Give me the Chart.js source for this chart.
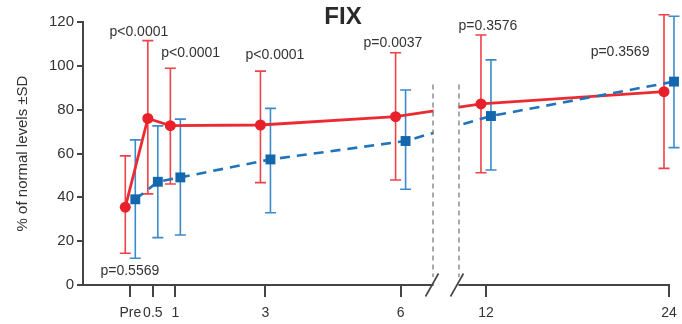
<!DOCTYPE html>
<html><head><meta charset="utf-8">
<script src="https://cdn.jsdelivr.net/npm/chart.js@4/dist/chart.umd.min.js"></script>
<style>html,body{margin:0;padding:0;background:#fff}#wrap{width:682px;height:324px;position:relative}</style>
</head><body><div id="wrap"><canvas id="c" width="682" height="324" style="width:682px;height:324px"></canvas></div>
<script>
// ---- data ----
const timeLabels = ['Pre', '0.5', '1', '3', '6', '12', '24'];
const timeMonths = [0, 0.5, 1, 3, 6, 12, 24];
const redMean  = [35.5, 76.0, 72.7, 73.0, 76.8, 82.6, 88.2];
const redLow   = [14.5, 41.6, 46.1, 46.7, 47.9, 51.2, 53.2];
const redHigh  = [58.9, 111.5, 98.9, 97.6, 106.0, 114.1, 123.3];
const blueMean = [39.1, 47.1, 49.1, 57.3, 65.7, 77.1, 92.8];
const blueLow  = [12.2, 21.6, 22.8, 33.0, 43.7, 52.5, 62.7];
const blueHigh = [66.2, 72.6, 75.7, 80.6, 89.0, 102.7, 122.6];
const yTicks = [0, 20, 40, 60, 80, 100, 120];
const pTexts  = ['p<0.0001', 'p<0.0001', 'p<0.0001', 'p=0.0037', 'p=0.3576', 'p=0.3569', 'p=0.5569'];
const pMonths = [0.19, 1.34, 3.21, 5.83, 12.13, 20.79, -0.01];
const pValues = [115.4, 105.9, 105.0, 110.4, 118.2, 106.3, 6.4];
const axisBreak = [6.72, 10.23];   // months hidden by the axis break
const xRange = [-1.05, 24];

// ---- broken linear scale ----
const BREAK_FRAC = [0.5973, 0.6416];
class BrokenLinearScale extends Chart.LinearScale {
  _dec(v) {
    const mn = this.min, mx = this.max, b0 = axisBreak[0], b1 = axisBreak[1];
    const f1 = BREAK_FRAC[0], f2 = BREAK_FRAC[1];
    if (v <= b0) return (v - mn) / (b0 - mn) * f1;
    if (v >= b1) return f2 + (v - b1) / (mx - b1) * (1 - f2);
    return f1 + (v - b0) / (b1 - b0) * (f2 - f1);
  }
  getPixelForValue(v) {
    if (v === null || v === undefined || isNaN(v)) return NaN;
    return this.getPixelForDecimal(this._dec(v));
  }
  getValueForPixel(p) {
    const d = this.getDecimalForPixel(p);
    const mn = this.min, mx = this.max, b0 = axisBreak[0], b1 = axisBreak[1];
    const f1 = BREAK_FRAC[0], f2 = BREAK_FRAC[1];
    if (d <= f1) return mn + d / f1 * (b0 - mn);
    if (d >= f2) return b1 + (d - f2) / (1 - f2) * (mx - b1);
    return b0 + (d - f1) / (f2 - f1) * (b1 - b0);
  }
}
BrokenLinearScale.id = 'brokenLinear';
BrokenLinearScale.defaults = Chart.LinearScale.defaults;
Chart.register(BrokenLinearScale);

const FONT = "'Liberation Sans', Arial, sans-serif";
const TEXT = '#333333';
const AXIS = '#444444';

const pts = (ys) => timeMonths.map((m, i) => ({ x: m, y: ys[i] }));

const shiftPlugin = {
  id: 'shift',
  beforeDatasetDraw(chart, args) {
    const ds = chart.data.datasets[args.index];
    chart.ctx.save();
    chart.ctx.translate(ds.dx || 0, 0);
  },
  afterDatasetDraw(chart) { chart.ctx.restore(); }
};

const errorBars = {
  id: 'errorBars',
  beforeDatasetsDraw(chart) {
    const ctx = chart.ctx, xs = chart.scales.x, ys = chart.scales.y;
    chart.data.datasets.forEach((ds) => {
      if (!ds.errLow) return;
      ctx.save();
      ctx.strokeStyle = ds.errColor;
      ctx.lineWidth = 1.6;
      ds.data.forEach((p, j) => {
        const x = xs.getPixelForValue(p.x) + (ds.dx || 0);
        const yl = ys.getPixelForValue(ds.errLow[j]);
        const yh = ys.getPixelForValue(ds.errHigh[j]);
        ctx.beginPath();
        ctx.moveTo(x, yl); ctx.lineTo(x, yh);
        ctx.moveTo(x - 5.5, yl); ctx.lineTo(x + 5.5, yl);
        ctx.moveTo(x - 5.5, yh); ctx.lineTo(x + 5.5, yh);
        ctx.stroke();
      });
      ctx.restore();
    });
  }
};

const decor = {
  id: 'decor',
  afterDraw(chart) {
    const ctx = chart.ctx, xs = chart.scales.x, ys = chart.scales.y, ca = chart.chartArea;
    const x0 = xs.getPixelForValue(axisBreak[0]);
    const x1 = xs.getPixelForValue(axisBreak[1]);
    ctx.save();
    ctx.fillStyle = '#ffffff';
    ctx.fillRect(x0 + 0.5, ca.top - 2, x1 - x0 - 1, ca.bottom - ca.top + 5);
    ctx.strokeStyle = '#707070';
    ctx.lineWidth = 1.2;
    ctx.setLineDash([5, 4]);
    const yt = ys.getPixelForValue(91.5), yb = ys.getPixelForValue(3.6);
    [x0, x1].forEach(x => { ctx.beginPath(); ctx.moveTo(x, yt); ctx.lineTo(x, yb); ctx.stroke(); });
    ctx.setLineDash([]);
    ctx.strokeStyle = AXIS;
    ctx.lineWidth = 1.6;
    [x0 - 1, x1 - 2].forEach(cx => {
      ctx.beginPath(); ctx.moveTo(cx - 6.5, ca.bottom + 11.5); ctx.lineTo(cx + 6.5, ca.bottom - 11.5); ctx.stroke();
    });
    ctx.fillStyle = TEXT;
    ctx.font = '14px ' + FONT;
    ctx.textAlign = 'center';
    ctx.textBaseline = 'middle';
    pTexts.forEach((t, i) => ctx.fillText(t, xs.getPixelForValue(pMonths[i]), ys.getPixelForValue(pValues[i])));
    ctx.font = 'bold 24px ' + FONT;
    ctx.fillStyle = '#2a2a2a';
    ctx.fillText('FIX', 343, 17);
    ctx.restore();
  }
};

new Chart(document.getElementById('c'), {
  type: 'line',
  data: {
    datasets: [
      {
        label: 'blue', data: pts(blueMean), dx: 5,
        errLow: blueLow, errHigh: blueHigh, errColor: '#3a8bcc',
        borderColor: '#1f74bb', backgroundColor: '#1466ad', borderWidth: 2.6,
        borderDash: [10, 7], pointStyle: 'rect', pointRadius: 7, pointBorderWidth: 0,
        pointBackgroundColor: '#1466ad', clip: false, tension: 0
      },
      {
        label: 'red', data: pts(redMean), dx: -5,
        errLow: redLow, errHigh: redHigh, errColor: '#ef4148',
        borderColor: '#ec2a31', backgroundColor: '#e8202a', borderWidth: 2.8,
        pointStyle: 'circle', pointRadius: 5.5, pointBorderWidth: 0,
        pointBackgroundColor: '#e8202a', clip: false, tension: 0
      }
    ]
  },
  options: {
    responsive: false,
    animation: false,
    devicePixelRatio: 1,
    layout: { padding: { top: 22, right: 13, bottom: 0, left: 0 } },
    plugins: { legend: { display: false }, tooltip: { enabled: false }, title: { display: false } },
    scales: {
      x: {
        type: 'brokenLinear', min: xRange[0], max: xRange[1],
        afterBuildTicks(s) { s.ticks = timeMonths.map(v => ({ value: v })); },
        afterFit(s) { s.height = 39; s.paddingLeft = 0; s.paddingRight = 0; s.paddingTop = 0; s.paddingBottom = 0; },
        ticks: {
          autoSkip: false, maxRotation: 0, padding: 8, color: TEXT,
          font: { size: 14, family: FONT },
          callback: (v, i) => timeLabels[i]
        },
        grid: { display: true, drawOnChartArea: false, drawTicks: true, tickLength: 12, color: AXIS, lineWidth: 2 },
        border: { display: true, color: AXIS, width: 2 }
      },
      y: {
        type: 'linear', min: 0, max: 120,
        afterBuildTicks(s) { s.ticks = yTicks.map(v => ({ value: v })); },
        afterFit(s) { s.width = 83; s.paddingLeft = 0; s.paddingRight = 0; s.paddingTop = 0; s.paddingBottom = 0; },
        ticks: { padding: 3, color: TEXT, font: { size: 15, family: FONT } },
        grid: { display: true, drawOnChartArea: false, drawTicks: true, tickLength: 6, color: AXIS, lineWidth: 2 },
        border: { display: true, color: AXIS, width: 2 },
        title: { display: true, text: '% of normal levels ±SD', color: TEXT, font: { size: 15, family: FONT }, padding: { top: 14, bottom: 0 } }
      }
    }
  },
  plugins: [shiftPlugin, errorBars, decor]
});
</script>
</body></html>
